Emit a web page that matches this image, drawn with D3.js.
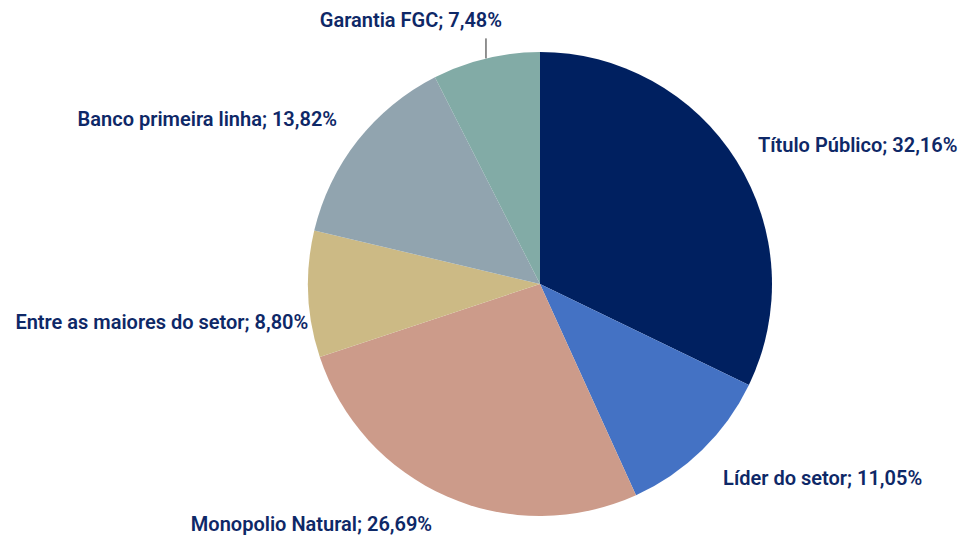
<!DOCTYPE html>
<html>
  <head>
    <meta charset="utf-8">
    <script src="https://cdn.jsdelivr.net/npm/d3@7/dist/d3.min.js"></script>
    <style>
      body { margin: 0; background: #fff; }
      text { font-family: Roboto, "Open Sans", sans-serif; }
    </style>
  </head>
  <body>
    <script>

      // data
      var categories = ["Título Público", "Líder do setor", "Monopolio Natural",
                        "Entre as maiores do setor", "Banco primeira linha", "Garantia FGC"];
      var values = [32.16, 11.05, 26.69, 8.80, 13.82, 7.48];
      var colors = ["#002060", "#4472C4", "#CC9B8A", "#CCBA85", "#91A4AF", "#82ABA6"];

      // label nudges (layout only)
      var labelShift = [[-4, 0], [0, 7], [-3, 0], [30, 26], [3, -3], [23, -9]];

      var w = 959, h = 537;
      var cx = 540, cy = 284, radius = 232;

      var svg = d3.select("body")
          .append("svg")
          .attr("width", w)
          .attr("height", h);

      var g = svg.append("g")
          .attr("transform", "translate(" + cx + "," + cy + ")");

      var pie = d3.pie().sort(null).value(function(d) { return d; });
      var arcs = pie(values);

      var arc = d3.arc().innerRadius(0).outerRadius(radius);

      // slices
      g.selectAll(".slice")
        .data(arcs)
        .enter()
        .append("path")
        .attr("class", "slice")
        .attr("d", arc)
        .attr("fill", function(d, i) { return colors[i]; });

      // point on a circle at the middle angle of a slice
      function pt(d, r) {
        var a = (d.startAngle + d.endAngle) / 2;
        return [r * Math.sin(a), -r * Math.cos(a)];
      }

      // leader line for the small top slice
      var last = arcs[arcs.length - 1];
      var p0 = pt(last, radius);
      g.append("line")
        .attr("x1", p0[0]).attr("y1", p0[1])
        .attr("x2", p0[0]).attr("y2", p0[1] - 20)
        .attr("stroke", "#262626")
        .attr("stroke-width", 1);

      // labels
      g.selectAll(".label")
        .data(arcs)
        .enter()
        .append("text")
        .attr("class", "label")
        .attr("x", function(d, i) { return pt(d, 262)[0] + labelShift[i][0]; })
        .attr("y", function(d, i) { return pt(d, 262)[1] + labelShift[i][1]; })
        .attr("dy", "0.35em")
        .attr("text-anchor", function(d) {
          var a = (d.startAngle + d.endAngle) / 2;
          return a < Math.PI ? "start" : "end";
        })
        .style("font-size", "20px")
        .style("font-weight", "600")
        .attr("fill", "#0E2867")
        .text(function(d, i) {
          return categories[i] + "; " + values[i].toFixed(2).replace(".", ",") + "%";
        });

    </script>
  </body>
</html>
